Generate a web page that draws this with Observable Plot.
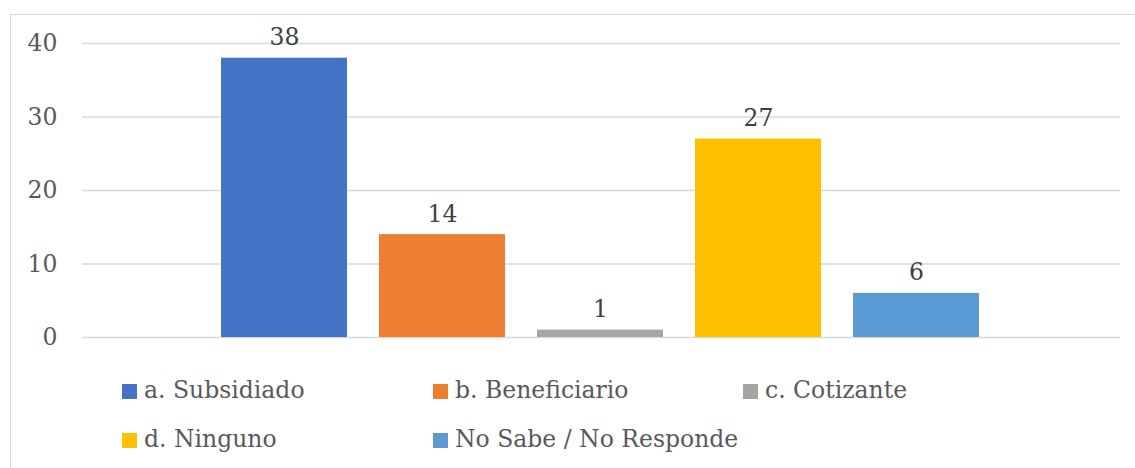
<!DOCTYPE html>
<html>
<head>
<meta charset="utf-8">
<script src="https://cdn.jsdelivr.net/npm/d3@7"></script>
<script src="https://cdn.jsdelivr.net/npm/@observablehq/plot@0.6"></script>
<style>
  html, body { margin: 0; padding: 0; background: #fff; overflow: hidden; }
  #wrap { position: relative; width: 1135px; height: 468px; overflow: hidden; font-family: "DejaVu Serif", serif; }
  #border { position: absolute; left: 10px; top: 14px; width: 1200px; height: 520px; border: 1.5px solid #d9d9d9; box-sizing: border-box; }
  #chart { position: absolute; left: 0; top: 0; }
  .leg { position: absolute; display: flex; align-items: center; font-size: 23.5px; color: #595959; line-height: 1; white-space: nowrap; }
  .leg span.sw { display: inline-block; width: 15px; height: 15px; margin-right: 7px; }
</style>
</head>
<body>
<div id="wrap">
  <div id="border"></div>
  <div id="chart"></div>
</div>
<script>
const categories = ["a. Subsidiado", "b. Beneficiario", "c. Cotizante", "d. Ninguno", "No Sabe / No Responde"];
const values = [38, 14, 1, 27, 6];
const colors = ["#4472C4", "#ED7D31", "#A5A5A5", "#FFC000", "#5B9BD5"];
const yTicks = [0, 10, 20, 30, 40];

const data = categories.map((c, i) => ({category: c, value: values[i]}));
const FONT = "'DejaVu Serif', serif";

const chart = Plot.plot({
  width: 1135,
  height: 360,
  marginLeft: 82,
  marginRight: 15,
  marginTop: 43,
  marginBottom: 23,
  style: {fontFamily: FONT, fontSize: "23.5px", color: "#595959", background: "transparent"},
  x: {domain: categories, range: [219, 982], paddingInner: 0.2, paddingOuter: 0, axis: null},
  y: {domain: [0, 40], axis: null},
  color: {domain: categories, range: colors},
  marks: [
    Plot.ruleY(yTicks, {stroke: "#d9d9d9", strokeWidth: 1.5}),
    Plot.barY(data, {x: "category", y: "value", fill: "category"}),
    Plot.text(data, {x: "category", y: "value", text: d => String(d.value), lineAnchor: "bottom", dy: -13, fill: "#404040", fontSize: 23.5, fontFamily: FONT}),
    Plot.axisY({ticks: yTicks, tickSize: 0, tickPadding: 25, fill: "#595959", fontSize: 23.5, fontFamily: FONT, label: null, tickFormat: d => String(d)})
  ]
});
document.getElementById("chart").appendChild(chart);

const wrap = document.getElementById("wrap");
const legPos = [[122, 391], [433, 391], [743, 391], [122, 440], [433, 440]];
categories.forEach((c, i) => {
  const el = document.createElement("div");
  el.className = "leg";
  el.style.left = legPos[i][0] + "px";
  el.style.top = (legPos[i][1] - 15) + "px";
  el.style.height = "30px";
  const sw = document.createElement("span");
  sw.className = "sw";
  sw.style.background = colors[i];
  const tx = document.createElement("span");
  tx.textContent = c;
  el.appendChild(sw);
  el.appendChild(tx);
  wrap.appendChild(el);
});
</script>
</body>
</html>
